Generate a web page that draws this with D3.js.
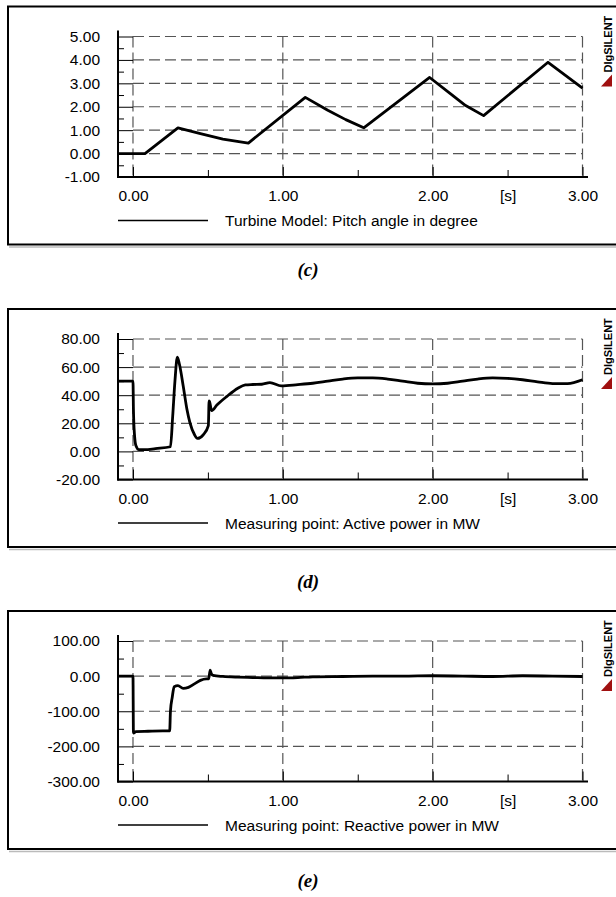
<!DOCTYPE html>
<html>
<head>
<meta charset="utf-8">
<script src="https://cdn.jsdelivr.net/npm/d3@7"></script>
<style>
  body { margin: 0; background: #fff; }
  svg { display: block; }
  .tick text { font-family: "Liberation Sans", Arial, sans-serif; font-size: 15.5px; fill: #000; }
  .legend-text { font-family: "Liberation Sans", Arial, sans-serif; font-size: 15.5px; fill: #000; }
  .caption { font-family: "Liberation Serif", "Times New Roman", serif; font-size: 19px; font-weight: bold; font-style: italic; }
  .logo { font-family: "Liberation Sans", Arial, sans-serif; font-size: 11px; font-weight: bold; }
</style>
</head>
<body>
<div id="chart"></div>
<script>
// shared time axis
var xTicks = [0, 1, 2, 3];
var xMinorTicks = [0.5, 1.5, 2.5];
var xUnitLabel = "[s]";

// (c) pitch angle
var pitchTime = [-0.1, 0.08, 0.3, 0.45, 0.6, 0.77, 1.15, 1.3, 1.42, 1.54, 1.98, 2.12, 2.22, 2.34, 2.77, 3.0];
var pitchValue = [0, 0, 1.1, 0.85, 0.62, 0.45, 2.4, 1.85, 1.45, 1.1, 3.25, 2.55, 2.05, 1.62, 3.9, 2.8];
var pitchTicks = [-1, 0, 1, 2, 3, 4, 5];
var pitchLegend = "Turbine Model: Pitch angle in degree";

// (d) active power
var activeTime = [-0.1, 0, 0.003, 0.01, 0.02, 0.04, 0.08, 0.15, 0.25, 0.265, 0.28, 0.296, 0.31, 0.336, 0.36, 0.38, 0.41, 0.43,
  0.47, 0.503, 0.508, 0.512, 0.525, 0.56, 0.625, 0.7, 0.75, 0.8, 0.86, 0.914, 0.99, 1.1, 1.2, 1.3, 1.4, 1.5, 1.6, 1.7, 1.8,
  1.9, 2.0, 2.1, 2.2, 2.3, 2.4, 2.5, 2.6, 2.7, 2.8, 2.9, 3.0];
var activeValue = [50, 50, 30, 12, 4, 1.2, 1.2, 2, 3.3, 25, 50, 67, 62, 46, 30, 20.5, 12, 9.2,
  12, 18.4, 36, 35, 29, 33, 39, 45, 47.3, 47.6, 47.8, 49, 46.6, 47.5, 48.5, 50, 51.5, 52.3, 52.3, 51.5, 50,
  48.5, 48, 48.5, 50, 51.5, 52.3, 52, 51, 49.5, 48.3, 48.3, 51];
var activeTicks = [-20, 0, 20, 40, 60, 80];
var activeLegend = "Measuring point: Active power in MW";

// (e) reactive power
var reactiveTime = [-0.1, 0, 0.003, 0.02, 0.1, 0.2, 0.245, 0.25, 0.262, 0.275, 0.3, 0.335, 0.37, 0.41, 0.45, 0.49, 0.505,
  0.515, 0.522, 0.535, 0.6, 0.7, 0.8, 0.9, 1.0, 1.1, 1.2, 1.4, 1.6, 1.8, 2.0, 2.2, 2.4, 2.6, 2.8, 3.0];
var reactiveValue = [0, 0, -162, -158, -157, -156, -156, -100, -60, -30, -27, -35, -32, -22, -12, -8, -8,
  17, 8, 2, -1, -3, -4, -5, -5, -4, -2, -1, 0, 0, 1, 0, -1, 1, 0, -1];
var reactiveTicks = [-300, -200, -100, 0, 100];
var reactiveLegend = "Measuring point: Reactive power in MW";

var captions = ["(c)", "(d)", "(e)"];

var panels = [
  { top: 6.5, time: pitchTime, values: pitchValue, ticks: pitchTicks, legend: pitchLegend, caption: captions[0], capY: 276, curve: d3.curveLinear },
  { top: 309, time: activeTime, values: activeValue, ticks: activeTicks, legend: activeLegend, caption: captions[1], capY: 588, curve: d3.curveMonotoneX },
  { top: 611, time: reactiveTime, values: reactiveValue, ticks: reactiveTicks, legend: reactiveLegend, caption: captions[2], capY: 887, curve: d3.curveMonotoneX }
];

var W = 616, H = 897;
var svg = d3.select('#chart').append('svg').attr('width', W).attr('height', H);

// plain hyphen for negatives, like the original plot
var locale = d3.formatLocale({ decimal: '.', thousands: ',', grouping: [3], currency: ['', ''], minus: '-' });
var fmt = locale.format('.2f');
var x = d3.scaleLinear().domain([-0.1, 3.0]).range([118, 582.5]);

panels.forEach(function (p) {
  var T = p.top;
  var gridTop = T + 30, axisY = T + 170.5;
  var ymin = d3.min(p.ticks), ymax = d3.max(p.ticks);
  var y = d3.scaleLinear().domain([ymin, ymax]).range([axisY, gridTop]);
  var step = p.ticks[1] - p.ticks[0];
  var minor = p.ticks.slice(0, -1).map(function (d) { return d + step / 2; });

  var g = svg.append('g');

  // frame with a faint shadow
  g.append('line')
    .attr('x1', 9).attr('x2', W).attr('y1', T + 240.5).attr('y2', T + 240.5)
    .attr('stroke', '#bbb').attr('stroke-width', 1.5);
  g.append('rect')
    .attr('x', 8).attr('y', T).attr('width', W + 10).attr('height', 238)
    .attr('fill', 'none').attr('stroke', '#000').attr('stroke-width', 2);

  // dashed grid
  g.selectAll('.hgrid')
    .data(p.ticks.filter(function (d) { return d !== ymin; }))
    .enter().append('line')
    .attr('class', 'hgrid')
    .attr('x1', x(0)).attr('x2', x(3))
    .attr('y1', function (d) { return y(d); })
    .attr('y2', function (d) { return y(d); })
    .attr('stroke', '#555').attr('stroke-width', 1.2)
    .attr('stroke-dasharray', '11,5');

  g.selectAll('.vgrid')
    .data(xTicks)
    .enter().append('line')
    .attr('class', 'vgrid')
    .attr('x1', function (d) { return x(d); })
    .attr('x2', function (d) { return x(d); })
    .attr('y1', gridTop).attr('y2', axisY)
    .attr('stroke', '#555').attr('stroke-width', 1.2)
    .attr('stroke-dasharray', '11,5');

  // y axis
  var yAxis = g.append('g')
    .attr('transform', 'translate(118,0)')
    .call(d3.axisLeft(y).tickValues(p.ticks).tickFormat(fmt).tickSize(-15).tickPadding(18).tickSizeOuter(0));
  yAxis.select('.domain').remove();
  yAxis.selectAll('.tick line').attr('stroke', '#000');

  var yMinor = g.append('g')
    .attr('transform', 'translate(118,0)')
    .call(d3.axisLeft(y).tickValues(minor).tickFormat('').tickSize(-6).tickSizeOuter(0));
  yMinor.select('.domain').remove();

  // x axis
  var xAxis = g.append('g')
    .attr('transform', 'translate(0,' + axisY + ')')
    .call(d3.axisBottom(x).tickValues(xTicks).tickFormat(fmt).tickSize(-10).tickPadding(13).tickSizeOuter(0));
  xAxis.select('.domain').remove();

  var xMinor = g.append('g')
    .attr('transform', 'translate(0,' + axisY + ')')
    .call(d3.axisBottom(x).tickValues(xMinorTicks)
      .tickFormat(function (d) { return d === 2.5 ? xUnitLabel : ''; })
      .tickSize(-7).tickPadding(13).tickSizeOuter(0));
  xMinor.select('.domain').remove();

  // axis lines
  g.append('line')
    .attr('x1', 118).attr('x2', 118).attr('y1', gridTop - 6).attr('y2', axisY + 1)
    .attr('stroke', '#000').attr('stroke-width', 2);
  g.append('line')
    .attr('x1', 117).attr('x2', 588).attr('y1', axisY).attr('y2', axisY)
    .attr('stroke', '#000').attr('stroke-width', 2);

  // curve
  var line = d3.line()
    .x(function (d, i) { return x(p.time[i]); })
    .y(function (d) { return y(d); })
    .curve(p.curve);
  g.append('path')
    .datum(p.values)
    .attr('d', line)
    .attr('fill', 'none')
    .attr('stroke', '#000')
    .attr('stroke-width', 2.8)
    .attr('stroke-linejoin', 'round');

  // legend
  var ly = T + 214;
  g.append('line')
    .attr('x1', 118).attr('x2', 208).attr('y1', ly).attr('y2', ly)
    .attr('stroke', '#000').attr('stroke-width', 1.6);
  g.append('text')
    .attr('class', 'legend-text')
    .attr('x', 225).attr('y', ly + 5.5)
    .text(p.legend);

  // DIgSILENT mark
  g.append('text')
    .attr('class', 'logo')
    .attr('transform', 'translate(612,' + (T + 66) + ') rotate(-90)')
    .text('DIgSILENT');
  g.append('path')
    .attr('d', 'M612,' + (T + 68) + 'L612,' + (T + 80) + 'L601,' + (T + 80) + 'Z')
    .attr('fill', '#a01010');

  // caption
  svg.append('text')
    .attr('class', 'caption')
    .attr('x', 308).attr('y', p.capY)
    .attr('text-anchor', 'middle')
    .text(p.caption);
});
</script>
</body>
</html>
